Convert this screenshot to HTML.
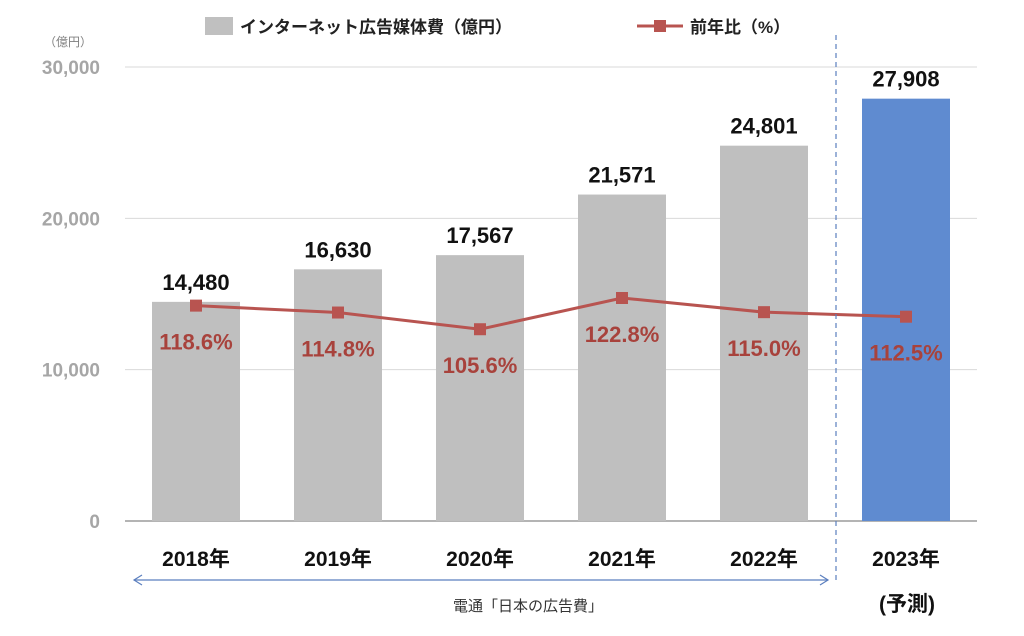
<!DOCTYPE html>
<html><head><meta charset="utf-8"><style>
body{margin:0;background:#fff;}
svg{display:block;font-family:"Liberation Sans","Noto Sans CJK JP",sans-serif;}
</style></head><body>
<svg id="chart" width="1024" height="636" viewBox="0 0 1024 636">
<g id="grid"></g>
<g id="yt"></g>
<text x="68" y="46" font-size="12" fill="#808080" text-anchor="middle">（億円）</text>
<g id="bars"></g>
<g id="line"></g>
<g id="xl"></g>
<line x1="836" y1="35" x2="836" y2="582" stroke="#5b7fbf" stroke-width="1.2" stroke-dasharray="5,4"/>
<g>
<line x1="134" y1="580" x2="828" y2="580" stroke="#5b7fbf" stroke-width="1.2"/>
<polyline points="142,575 134,580 142,585" fill="none" stroke="#5b7fbf" stroke-width="1.2"/>
<polyline points="820,575 828,580 820,585" fill="none" stroke="#5b7fbf" stroke-width="1.2"/>
</g>
<text x="528" y="611" font-size="15" fill="#333" text-anchor="middle">電通「日本の広告費」</text>
<text x="907" y="611" font-size="21" font-weight="bold" fill="#111" text-anchor="middle">(予測)</text>
<g>
<rect x="205" y="17" width="28" height="18" fill="#c0c0c0"/>
<text x="240" y="33" font-size="17" font-weight="bold" fill="#222">インターネット広告媒体費（億円）</text>
<line x1="637" y1="26" x2="683" y2="26" stroke="#b85450" stroke-width="3"/>
<rect x="654" y="20" width="12" height="12" fill="#b85450"/>
<text x="690" y="33" font-size="17" font-weight="bold" fill="#222">前年比（%）</text>
</g>
</svg>
<script>
const categories=["2018年","2019年","2020年","2021年","2022年","2023年"];
const spend=[14480,16630,17567,21571,24801,27908];
const yoy=[118.6,114.8,105.6,122.8,115.0,112.5];
const yTicks=[0,10000,20000,30000];
const yTickLabels=["0","10,000","20,000","30,000"];
const spendLabels=["14,480","16,630","17,567","21,571","24,801","27,908"];
const yoyLabels=["118.6%","114.8%","105.6%","122.8%","115.0%","112.5%"];
const NS="http://www.w3.org/2000/svg";
const L=125,R=977,B=521,T=67;
const step=(R-L)/categories.length;
const xc=i=>L+step*(i+0.5);
const y=v=>B-(v/30000)*(B-T);
const y2=v=>B-(v/250)*(B-T);
function mk(tag,attrs,parent,txt){const e=document.createElementNS(NS,tag);for(const k in attrs)e.setAttribute(k,attrs[k]);if(txt!==undefined)e.textContent=txt;parent.appendChild(e);return e;}
const grid=document.getElementById('grid'),yt=document.getElementById('yt'),bars=document.getElementById('bars'),line=document.getElementById('line'),xl=document.getElementById('xl');
yTicks.forEach((t,i)=>{
 const g=mk('line',{x1:L,x2:R,y1:y(t),y2:y(t),stroke:i==0?'#888':'#d9d9d9','stroke-width':i==0?1.3:1},grid);
 
 
 const tx=mk('text',{x:100,y:y(t)+7,'font-size':19,'font-weight':'bold',fill:'#a6a6a6','text-anchor':'end'},yt,yTickLabels[i]);
 
 
});
spend.forEach((v,i)=>{
 const r=mk('rect',{x:xc(i)-44,y:y(v),width:88,height:B-y(v),fill:i==5?'#5f8bd0':'#bfbfbf'},bars);
 
 
 const t=mk('text',{x:xc(i),y:y(v)-12,'font-size':22,'font-weight':'bold',fill:'#111','text-anchor':'middle'},bars,spendLabels[i]);
 
 
 const xt=mk('text',{x:xc(i),y:566,'font-size':21,'font-weight':'bold',fill:'#111','text-anchor':'middle'},xl,categories[i]);
 
 
});
const pl=mk('polyline',{points:yoy.map((v,i)=>xc(i)+','+y2(v)).join(' '),fill:'none',stroke:'#b85450','stroke-width':3},line);


yoy.forEach((v,i)=>{
 const m=mk('rect',{x:xc(i)-6,y:y2(v)-6,width:12,height:12,fill:'#b85450'},line);
 
 
 const t=mk('text',{x:xc(i),y:y2(v)+44,'font-size':22,'font-weight':'bold',fill:'#a8423c','text-anchor':'middle'},line,yoyLabels[i]);
 
 
});
</script>
</body></html>
